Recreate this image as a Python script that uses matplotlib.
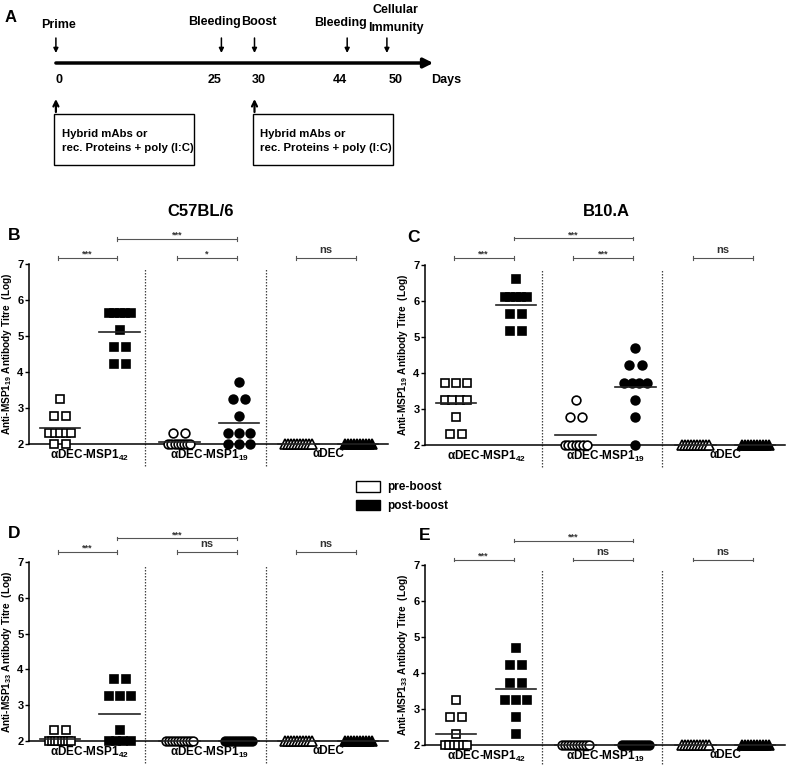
import numpy as np
import matplotlib
matplotlib.use("Agg")
import matplotlib.pyplot as plt
from matplotlib.patches import Rectangle, Patch

plt.rcParams['font.family'] = ['Liberation Sans', 'DejaVu Sans']
plt.rcParams['font.weight'] = 'bold'
plt.rcParams['mathtext.fontset'] = 'custom'
plt.rcParams['mathtext.rm'] = 'Liberation Sans:bold'
plt.rcParams['mathtext.bf'] = 'Liberation Sans:bold'
plt.rcParams['mathtext.it'] = 'Liberation Sans:bold'

# ---------------- data ----------------
# Panel A timeline
tl_days = [0, 25, 30, 44, 50]
tl_events = ["Prime", "Bleeding", "Boost", "Bleeding", "Cellular\nImmunity"]
immunisation_days = [0, 30]
immunisation_text = "Hybrid mAbs or\nrec. Proteins + poly (I:C)"

groups = ["\u03b1DEC-MSP1$_{42}$", "\u03b1DEC-MSP1$_{19}$", "\u03b1DEC"]

# Panel B: C57BL/6, anti-MSP1-19
B_pre_42 = [3.26, 2.78, 2.78, 2.30, 2.30, 2.30, 2.30, 2.30, 2.00, 2.00]
B_post_42 = [5.64, 5.64, 5.64, 5.64, 5.64, 5.16, 4.69, 4.69, 4.21, 4.21]
B_pre_19 = [2.30, 2.30, 2.00, 2.00, 2.00, 2.00, 2.00, 2.00, 2.00, 2.00]
B_post_19 = [3.73, 3.26, 3.26, 2.78, 2.30, 2.30, 2.30, 2.00, 2.00, 2.00]
B_pre_dec = [2.00] * 10
B_post_dec = [2.00] * 10
B_sig = ["***", "***", "*", "ns"]

# Panel C: B10.A, anti-MSP1-19
C_pre_42 = [3.73, 3.73, 3.73, 3.26, 3.26, 3.26, 3.26, 2.78, 2.30, 2.30]
C_post_42 = [6.60, 6.12, 6.12, 6.12, 6.12, 6.12, 5.64, 5.64, 5.16, 5.16]
C_pre_19 = [3.26, 2.78, 2.78, 2.00, 2.00, 2.00, 2.00, 2.00, 2.00, 2.00]
C_post_19 = [4.69, 4.21, 4.21, 3.73, 3.73, 3.73, 3.73, 3.26, 2.78, 2.00]
C_pre_dec = [2.00] * 10
C_post_dec = [2.00] * 10
C_sig = ["***", "***", "***", "ns"]

# Panel D: C57BL/6, anti-MSP1-33
D_pre_42 = [2.30, 2.30, 2.00, 2.00, 2.00, 2.00, 2.00, 2.00, 2.00, 2.00]
D_post_42 = [3.73, 3.73, 3.26, 3.26, 3.26, 2.30, 2.00, 2.00, 2.00, 2.00]
D_pre_19 = [2.00] * 10
D_post_19 = [2.00] * 10
D_pre_dec = [2.00] * 10
D_post_dec = [2.00] * 10
D_sig = ["***", "***", "ns", "ns"]

# Panel E: B10.A, anti-MSP1-33
E_pre_42 = [3.26, 2.78, 2.78, 2.30, 2.00, 2.00, 2.00, 2.00, 2.00, 2.00]
E_post_42 = [4.69, 4.21, 4.21, 3.73, 3.73, 3.26, 3.26, 3.26, 2.78, 2.30]
E_pre_19 = [2.00] * 10
E_post_19 = [2.00] * 10
E_pre_dec = [2.00] * 10
E_post_dec = [2.00] * 10
E_sig = ["***", "***", "ns", "ns"]

W, H = 787, 766
fig = plt.figure(figsize=(W / 100, H / 100), dpi=100)

# ---------------- Panel A ----------------
axA = fig.add_axes([0, 1 - 175 / H, 1, 175 / H])
pxd = 6.62  # pixels per day
x0px = 55.9
axA.set_xlim(-x0px / pxd, (W - x0px) / pxd)
axA.set_ylim(175, 0)
axA.axis('off')
TL_FS = 9
axA.text((5 - x0px) / pxd, 18, "A", fontsize=12, fontweight='bold', ha='left', va='center')
end_day = max(tl_days) + 7
axA.annotate("", xy=(end_day, 63), xytext=(tl_days[0], 63),
             arrowprops=dict(arrowstyle='-|>', lw=2.5, color='black', mutation_scale=14,
                             shrinkA=0, shrinkB=0))
label_nudge_px = [3, -7, 4, -7, 9]   # keeps neighbouring labels apart
for d, ev, nudge in zip(tl_days, tl_events, label_nudge_px):
    axA.annotate("", xy=(d, 53), xytext=(d, 38),
                 arrowprops=dict(arrowstyle='-|>', lw=1.1, color='black', mutation_scale=7,
                                 shrinkA=0, shrinkB=0))
    xl = d + nudge / pxd
    if "\n" in ev:
        axA.text(xl, 19, ev, fontsize=TL_FS, fontweight='bold', ha='center', va='center',
                 linespacing=1.6)
    else:
        yy = 25 if ev == "Prime" else (23 if d == 44 else 22)
        axA.text(xl, yy, ev, fontsize=TL_FS, fontweight='bold', ha='center', va='center')
    axA.text(d + nudge / pxd, 80, str(d), fontsize=TL_FS, fontweight='bold', ha='center', va='center')
axA.text(end_day + 2, 80, "Days", fontsize=TL_FS, fontweight='bold', ha='center', va='center')
for d in immunisation_days:
    axA.annotate("", xy=(d, 99), xytext=(d, 112),
                 arrowprops=dict(arrowstyle='->', lw=1.6, color='black', mutation_scale=9,
                                 shrinkA=0, shrinkB=0))
    axA.add_patch(Rectangle((d - 0.3, 114), 140 / pxd, 51, fill=False, lw=1.0, edgecolor='black'))
    axA.text(d + 0.9, 141, immunisation_text, fontsize=8.2, fontweight='bold', ha='left',
             va='center', linespacing=1.55)

# ---------------- scatter panels ----------------
PX = 59.6  # pixels per x unit
XPOS = [0, 1, 2, 3, 4, 5]
MARKERS = ['s', 's', 'o', 'o', '^', '^']


def offsets(n):
    if n == 1:
        return np.zeros(1)
    span = min(12 * (n - 1), max(22, 3 * (n - 1)))
    return np.linspace(-span / 2, span / 2, n) / PX


def scatter_panel(rect, series, sig, ylab_sub, sig_y=(7.2, 7.72)):
    ax = fig.add_axes(rect)
    ax.set_xlim(-0.52, 5.5)
    ax.set_ylim(2, 7)
    for spine in ['top', 'right']:
        ax.spines[spine].set_visible(False)
    ax.spines['left'].set_linewidth(1.1)
    ax.spines['bottom'].set_linewidth(1.1)
    ax.set_yticks([2, 3, 4, 5, 6, 7])
    ax.set_yticklabels(['2', '3', '4', '5', '6', '7'], fontsize=8, fontweight='bold')
    ax.tick_params(axis='y', direction='out', length=3, width=1, pad=1)
    ax.set_xticks([0.5, 2.5, 4.5])
    ax.set_xticklabels(groups, fontsize=8.5, fontweight='bold')
    ax.tick_params(axis='x', length=0, pad=3)
    ax.set_ylabel("Anti-MSP1$_{%s}$ Antibody Titre  (Log)" % ylab_sub, fontsize=7.3, fontweight='bold')
    ax.yaxis.set_label_coords(-0.042, 0.5)
    for xd in [1.43, 3.45]:
        ax.plot([xd, xd], [1.38, 6.88], ls=(0, (1.2, 1.2)), lw=0.9, color='#444', clip_on=False)
    for i, vals in enumerate(series):
        vals = np.asarray(vals, dtype=float)
        filled = (i % 2 == 1)
        for v in np.unique(vals)[::-1]:
            n = int(np.sum(vals == v))
            xs = XPOS[i] + offsets(n)
            ax.plot(xs, [v] * n, ls='none', marker=MARKERS[i], ms=6.3 if MARKERS[i] != '^' else 6.5,
                    mfc='black' if filled else 'white', mec='black', mew=1.2, clip_on=False, zorder=3)
        m = np.mean(vals)
        ax.plot([XPOS[i] - 0.34, XPOS[i] + 0.34], [m, m], color='#222', lw=1.2, zorder=4, clip_on=False)
    pairs = [(0, 1, sig_y[0]), (1, 3, sig_y[1]), (2, 3, sig_y[0]), (4, 5, sig_y[0])]
    for (a, b, yb), s in zip(pairs, sig):
        xa, xb = XPOS[a] - 0.04, XPOS[b] - 0.04
        ax.plot([xa, xb], [yb, yb], color='#555', lw=0.8, clip_on=False)
        for xe in (xa, xb):
            ax.plot([xe, xe], [yb - 0.05, yb + 0.05], color='#555', lw=0.8, clip_on=False)
        if s == 'ns':
            ax.text((xa + xb) / 2, yb + 0.07, s, fontsize=8, fontweight='bold', ha='center',
                    va='bottom', color='#333')
        else:
            ax.text((xa + xb) / 2, yb - 0.02, s, fontsize=6.5, fontweight='bold', ha='center',
                    va='bottom', color='#333')
    return ax


def frac(l, r, b, t):
    return [l / W, 1 - b / H, (r - l) / W, (b - t) / H]


axB = scatter_panel(frac(29, 388, 444, 264),
                    [B_pre_42, B_post_42, B_pre_19, B_post_19, B_pre_dec, B_post_dec],
                    B_sig, "19", sig_y=(7.17, 7.69))
axC = scatter_panel(frac(425, 785, 445, 265),
                    [C_pre_42, C_post_42, C_pre_19, C_post_19, C_pre_dec, C_post_dec],
                    C_sig, "19", sig_y=(7.2, 7.74))
axD = scatter_panel(frac(29, 388, 741, 562),
                    [D_pre_42, D_post_42, D_pre_19, D_post_19, D_pre_dec, D_post_dec],
                    D_sig, "33", sig_y=(7.28, 7.66))
axE = scatter_panel(frac(425, 785, 745, 565),
                    [E_pre_42, E_post_42, E_pre_19, E_post_19, E_pre_dec, E_post_dec],
                    E_sig, "33", sig_y=(7.15, 7.68))


def ftext(x, y, s, **kw):
    fig.text(x / W, 1 - y / H, s, **kw)


ftext(201, 211, "C57BL/6", fontsize=12, fontweight='bold', ha='center', va='center')
ftext(606, 212, "B10.A", fontsize=12, fontweight='bold', ha='center', va='center')
ftext(8, 236, "B", fontsize=12.5, fontweight='bold', ha='left', va='center')
ftext(407, 238, "C", fontsize=12.5, fontweight='bold', ha='left', va='center')
ftext(8, 534, "D", fontsize=12.5, fontweight='bold', ha='left', va='center')
ftext(419, 535, "E", fontsize=12.5, fontweight='bold', ha='left', va='center')

handles = [Patch(facecolor='white', edgecolor='black', lw=1.0, label='pre-boost'),
           Patch(facecolor='black', edgecolor='black', lw=1.0, label='post-boost')]
fig.legend(handles=handles, loc='upper left', bbox_to_anchor=(356 / W, 1 - 481 / H),
           frameon=False, handlelength=2.0, handleheight=1.0,
           labelspacing=0.55, handletextpad=0.6, borderpad=0, borderaxespad=0,
           prop={'weight': 'bold', 'size': 8.5})

fig.savefig("out.png", dpi=100)
